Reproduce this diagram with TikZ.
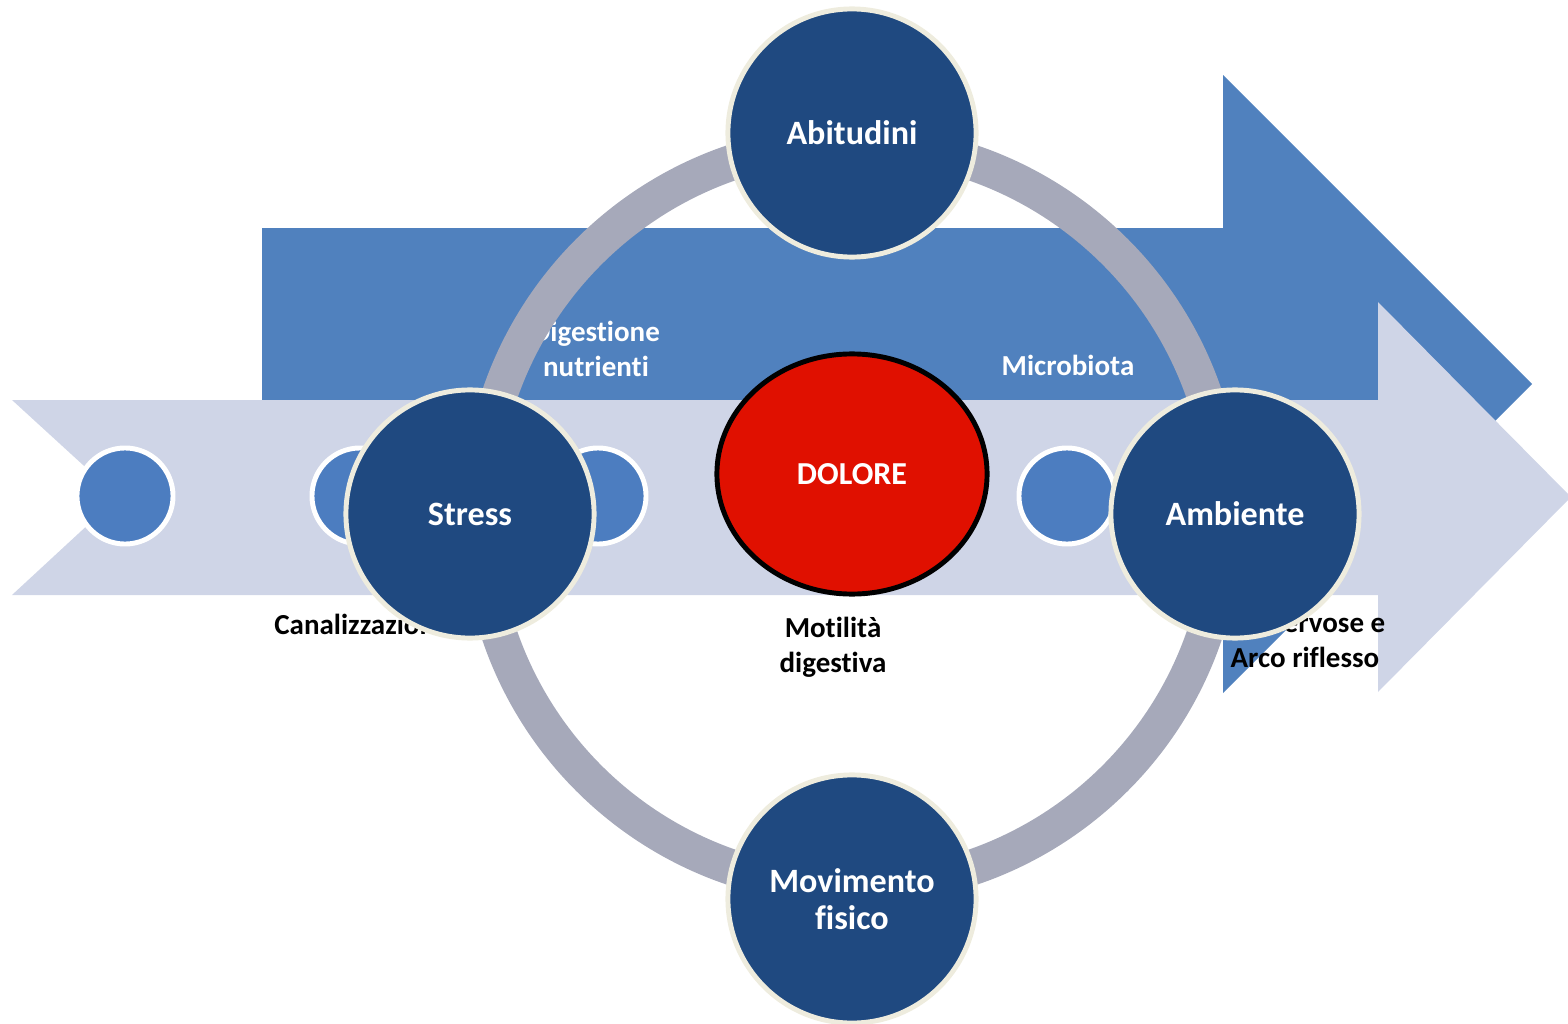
\documentclass[tikz,border=0pt]{standalone}
\usepackage{fontspec}
\setmainfont{Carlito}[Ligatures=NoCommon, RawFeature=-liga]
\usetikzlibrary{shapes.geometric}
\definecolor{arrowblue}{RGB}{80,129,190}
\definecolor{arrowlight}{RGB}{207,213,231}
\definecolor{smallblue}{RGB}{76,125,192}
\definecolor{darkblue}{RGB}{31,73,128}
\definecolor{creamline}{RGB}{238,236,222}
\definecolor{ringgrey}{RGB}{166,169,186}
\definecolor{painred}{RGB}{224,16,0}
\tikzset{
  toplabel/.style={font=\fontsize{8.25}{10}\selectfont\bfseries, text=white, align=center, inner sep=0pt},
  botlabel/.style={font=\fontsize{8.25}{10}\selectfont\bfseries, text=black, align=center, inner sep=0pt},
  bigcirc/.style={circle, fill=darkblue, draw=creamline, line width=1.4pt, minimum size=2.48cm, inner sep=0pt,
    text=white, align=center, font=\fontsize{9.7}{10.6}\selectfont\bfseries},
  smallcirc/.style={circle, fill=smallblue, draw=white, line width=1.4pt, minimum size=0.96cm, inner sep=0pt},
  painnode/.style={ellipse, fill=painred, draw=black, line width=1.4pt, minimum width=2.70cm, minimum height=2.40cm,
    inner sep=0pt, text=white, font=\fontsize{9.1}{10}\selectfont\bfseries}
}
\begin{document}
\begin{tikzpicture}[x=0.01cm,y=-0.01cm]
\useasboundingbox (0,0) rectangle (1568,1024);
% background arrows
\fill[arrowblue] (262,228) -- (1223,228) -- (1223,75) -- (1532,384) -- (1223,693) -- (1223,540) -- (262,540) -- cycle;
\fill[arrowlight] (12,400) -- (1378,400) -- (1378,302) -- (1571,497) -- (1378,692) -- (1378,595) -- (12,595) -- (118,497) -- cycle;
% process labels
\node[toplabel] (l2) at (596,349) {Digestione\\nutrienti};
\node[toplabel, anchor=base] (l4) at (1068,376) {Microbiota};
\node[botlabel, anchor=base] (l1) at (362,634) {Canalizzazione};
\node[botlabel] (l3) at (833,647) {Motilità\\digestiva};
\node[botlabel, anchor=base east] (l5a) at (1386,632) {Vie nervose e};
\node[botlabel, anchor=base] (l5b) at (1305,667) {Arco riflesso};
% ring
\coordinate (ringc) at (852,515);
\draw[ringgrey, line width=10.2pt] (ringc) circle[radius=3.72cm];
% small process circles
\node[smallcirc] (s0) at (125,496) {};
\node[smallcirc] (s1) at (360,496) {};
\node[smallcirc] (s2) at (598,496) {};
\node[smallcirc] (s3) at (833,496) {};
\node[smallcirc] (s4) at (1067,496) {};
\node[smallcirc] (s5) at (1303,496) {};
% big circles
\node[bigcirc] (abitudini) at (852,133) {Abitudini};
\node[bigcirc] (stress) at (470,514) {Stress};
\node[bigcirc] (ambiente) at (1235,514) {Ambiente};
\node[bigcirc] (movimento) at (852,899) {Movimento\\fisico};
% centre
\node[painnode] (dolore) at (852,474) {DOLORE};
\end{tikzpicture}
\end{document}
